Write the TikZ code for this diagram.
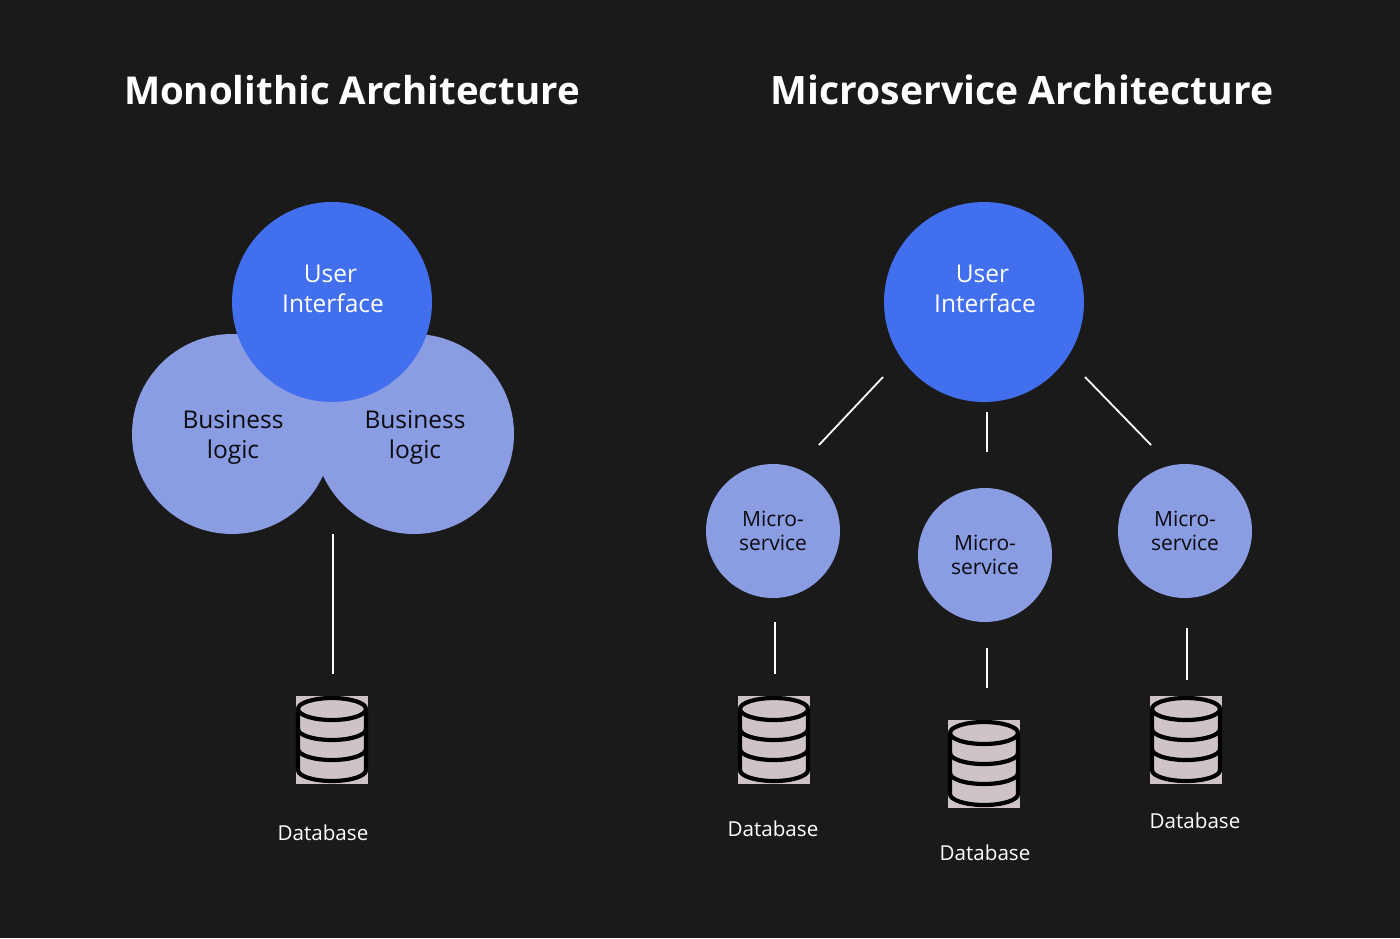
\documentclass[tikz,border=0pt]{standalone}
\usepackage{fontspec}
\setmainfont{Open Sans}
\definecolor{bgc}{HTML}{1B1A1B}
\definecolor{uic}{HTML}{416FEE}
\definecolor{lightc}{HTML}{8A9CE2}
\definecolor{dbc}{HTML}{CFC4C5}
\definecolor{inkc}{HTML}{0B0B10}
\newcommand{\dbicon}[3]{%
  \fill[dbc] (#1-36,#2-44) rectangle (#1+36,#2+44);
  \draw[dbline] (#1-34,#2-31) -- (#1-34,#2+30) arc[start angle=180,end angle=0,x radius=34,y radius=11] -- (#1+34,#2-31);
  \draw[dbline] (#1,#2-31) ellipse[x radius=34,y radius=11];
  \draw[dbline] (#1-34,#2-11) arc[start angle=180,end angle=0,x radius=34,y radius=11];
  \draw[dbline] (#1-34,#2+9) arc[start angle=180,end angle=0,x radius=34,y radius=11];
  \coordinate (#3) at (#1,#2);
}
\tikzset{
  titletext/.style={text=white,anchor=center,inner sep=0pt},
  uitext/.style={text=white,font=\fontsize{24.5}{30}\selectfont,align=center,inner sep=0pt},
  bigcircle/.style={circle,fill=uic,minimum size=200pt,inner sep=0pt},
  bizcircle/.style={circle,fill=lightc,minimum size=200pt,inner sep=0pt},
  biztext/.style={text=inkc,font=\fontsize{24.5}{30}\selectfont,align=center,inner sep=0pt},
  mscircle/.style={circle,fill=lightc,minimum size=134pt,inner sep=0pt,text=inkc,font=\fontsize{21}{24}\selectfont,align=center},
  dbtext/.style={text=white,font=\fontsize{20.6}{24}\selectfont,inner sep=0pt},
  link/.style={white,line width=1.8pt},
  dbline/.style={black,line width=4.2pt}
}
\begin{document}
\begin{tikzpicture}[x=1pt,y=-1pt]
\useasboundingbox (0,0) rectangle (1400,938);
\fill[bgc] (0,0) rectangle (1400,938);
\node[titletext,font=\fontsize{38.4}{48}\selectfont\bfseries] (t1) at (352,90) {Monolithic Architecture};
\node[titletext,font=\fontsize{39.1}{48}\selectfont\bfseries] (t2) at (1022,89.5) {Microservice Architecture};
% monolith
\node[bizcircle] (b1) at (232,434) {};
\node[bizcircle] (b2) at (414,434) {};
\node[biztext] (b1t) at (233,437) {Business\\logic};
\node[biztext] (b2t) at (415,437) {Business\\logic};
\node[bigcircle] (u1) at (332,302) {};
\node[uitext] (u1t) at (333,289) {User\hspace*{5pt}\\Interface};
\coordinate (m1) at (333,534);
\coordinate (m2) at (333,674);
\draw[link] (m1) -- (m2);
\dbicon{332}{740}{d1}
\node[dbtext] (d1t) at (323,833) {Database};
% microservices
\node[bigcircle] (u2) at (984,302) {};
\node[uitext] (u2t) at (985,289) {User\hspace*{5pt}\\Interface};
\node[mscircle] (s1) at (773,531) {Micro-\\service};
\node[mscircle] (s2) at (985,555) {Micro-\\service};
\node[mscircle] (s3) at (1185,531) {Micro-\\service};
\coordinate (a1) at (883,377); \coordinate (a2) at (819,445);
\coordinate (b3) at (987,412); \coordinate (b4) at (987,452);
\coordinate (c1) at (1085,377); \coordinate (c2) at (1151,445);
\draw[link] (a1) -- (a2);
\draw[link] (b3) -- (b4);
\draw[link] (c1) -- (c2);
\coordinate (e1) at (775,622); \coordinate (e2) at (775,674);
\coordinate (f1) at (987,648); \coordinate (f2) at (987,688);
\coordinate (g1) at (1187,628); \coordinate (g2) at (1187,680);
\draw[link] (e1) -- (e2);
\draw[link] (f1) -- (f2);
\draw[link] (g1) -- (g2);
\dbicon{774}{740}{d2}
\dbicon{984}{764}{d3}
\dbicon{1186}{740}{d4}
\node[dbtext] (d2t) at (773,829) {Database};
\node[dbtext] (d3t) at (985,853) {Database};
\node[dbtext] (d4t) at (1195,821) {Database};
\end{tikzpicture}
\end{document}
